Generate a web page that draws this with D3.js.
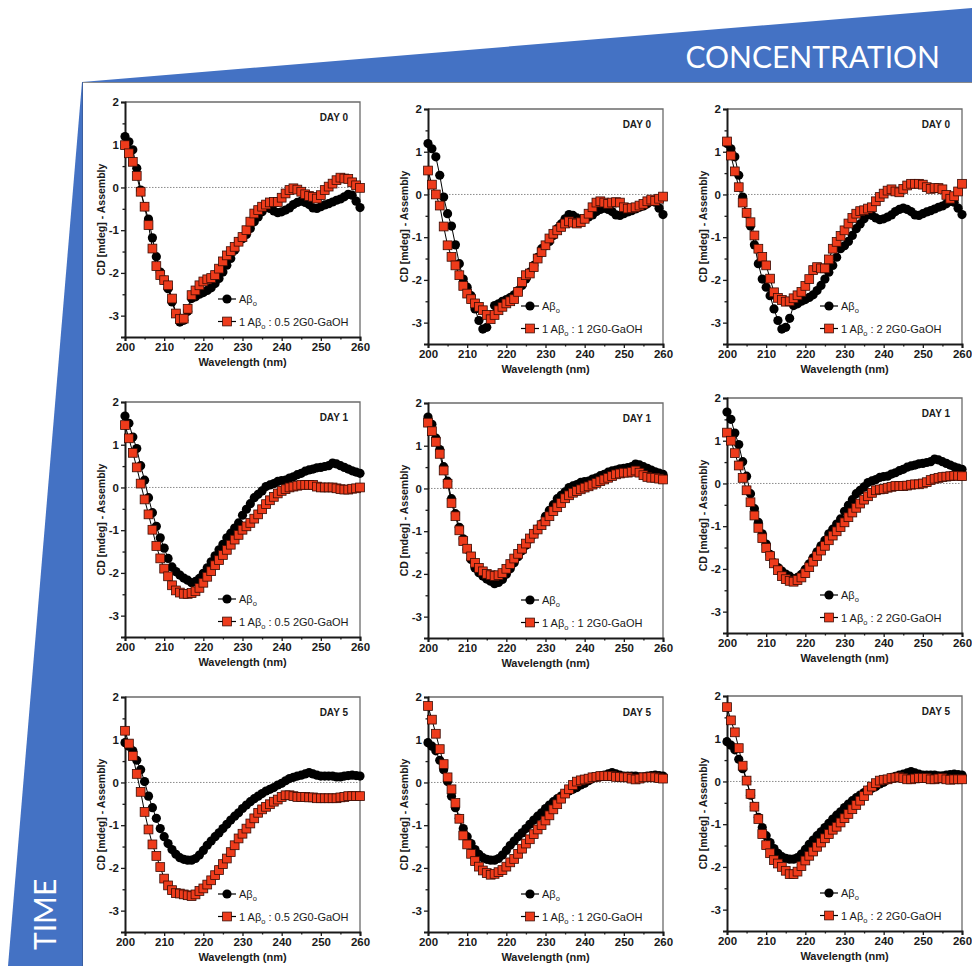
<!DOCTYPE html>
<html>
<head>
<meta charset="utf-8">
<script src="https://cdn.jsdelivr.net/npm/d3@7"></script>
<style>
  body { margin: 0; background: #fff; }
  svg { display: block; }
</style>
</head>
<body>
<svg id="fig" width="972" height="969"></svg>
<script>
// ---- Data -------------------------------------------------------------
const wavelengths = d3.range(200, 261);            // nm, 1 nm steps
const days = ["DAY 0", "DAY 1", "DAY 5"];
const ratios = ["0.5", "1", "2"];                  // Aβo : 2G0-GaOH
const xTicks = [200, 210, 220, 230, 240, 250, 260];
const xMinor = [205, 215, 225, 235, 245, 255];
const yTicks = [-3, -2, -1, 0, 1, 2];
const yMinor = [-2.5, -1.5, -0.5, 0.5, 1.5];

// Aβo alone (same control in each row)
const abDay0 = [
  1.19, 1.07, 0.88, 0.45, -0.06, -0.45, -0.74, -1.18, -1.62, -1.98,
  -2.17, -2.37, -2.68, -2.95, -3.15, -3.11, -2.9, -2.6, -2.56, -2.5,
  -2.46, -2.41, -2.35, -2.25, -2.13, -1.98, -1.82, -1.66, -1.47, -1.27,
  -1.2, -1.1, -0.96, -0.8, -0.69, -0.57, -0.47, -0.49, -0.55, -0.59,
  -0.57, -0.53, -0.48, -0.4, -0.35, -0.32, -0.35, -0.4, -0.48, -0.49,
  -0.45, -0.41, -0.38, -0.34, -0.3, -0.27, -0.22, -0.16, -0.18, -0.32, -0.47];
const abDay1 = [
  1.67, 1.5, 1.18, 0.91, 0.51, 0.17, -0.24, -0.59, -0.91, -1.18,
  -1.42, -1.66, -1.86, -1.97, -2.05, -2.12, -2.17, -2.23, -2.2, -2.13,
  -2.01, -1.88, -1.74, -1.6, -1.46, -1.33, -1.18, -1.07, -0.95, -0.83,
  -0.65, -0.51, -0.38, -0.24, -0.16, -0.08, 0.02, 0.06, 0.09, 0.14,
  0.16, 0.17, 0.22, 0.25, 0.3, 0.33, 0.38, 0.41, 0.43, 0.46,
  0.47, 0.49, 0.51, 0.57, 0.55, 0.51, 0.47, 0.43, 0.39, 0.36, 0.33];
const abDay5 = [
  0.93, 0.85, 0.74, 0.52, 0.3, 0.02, -0.32, -0.59, -0.84, -1.08,
  -1.27, -1.43, -1.57, -1.68, -1.76, -1.8, -1.82, -1.82, -1.78, -1.7,
  -1.59, -1.47, -1.37, -1.27, -1.18, -1.08, -0.98, -0.88, -0.79, -0.71,
  -0.61, -0.53, -0.45, -0.38, -0.32, -0.26, -0.2, -0.16, -0.12, -0.06,
  -0.02, 0.04, 0.09, 0.12, 0.15, 0.17, 0.2, 0.23, 0.2, 0.17,
  0.15, 0.15, 0.15, 0.15, 0.13, 0.13, 0.15, 0.16, 0.17, 0.16, 0.15];

// Aβo with 2G0-GaOH at 0.5, 1 and 2 equivalents
const day0Ratio05 = [
  0.99, 0.8, 0.6, 0.27, -0.1, -0.45, -0.88, -1.43, -1.84, -2.05,
  -2.17, -2.29, -2.6, -2.95, -3.08, -3.07, -2.84, -2.52, -2.41, -2.29,
  -2.2, -2.15, -2.12, -2.05, -1.9, -1.73, -1.59, -1.49, -1.39, -1.27,
  -1.16, -1.0, -0.8, -0.61, -0.53, -0.45, -0.4, -0.35, -0.34, -0.34,
  -0.24, -0.14, -0.06, -0.02, -0.05, -0.1, -0.16, -0.2, -0.22, -0.26,
  -0.18, -0.06, 0.02, 0.09, 0.17, 0.23, 0.21, 0.2, 0.12, 0.05, -0.01];
const day0Ratio1 = [
  0.56, 0.23, 0.0, -0.26, -0.75, -1.19, -1.46, -1.66, -1.89, -2.14,
  -2.32, -2.45, -2.55, -2.63, -2.71, -2.82, -2.92, -2.82, -2.71, -2.63,
  -2.55, -2.5, -2.45, -2.28, -2.05, -1.89, -1.85, -1.7, -1.5, -1.35,
  -1.19, -1.03, -0.92, -0.84, -0.76, -0.68, -0.63, -0.66, -0.68, -0.65,
  -0.57, -0.45, -0.3, -0.19, -0.16, -0.19, -0.22, -0.19, -0.18, -0.19,
  -0.3, -0.33, -0.32, -0.3, -0.26, -0.22, -0.16, -0.12, -0.15, -0.1, -0.05];
const day0Ratio2 = [
  1.24, 0.91, 0.54, 0.17, -0.19, -0.43, -0.65, -0.96, -1.27, -1.46,
  -1.66, -1.97, -2.29, -2.42, -2.47, -2.51, -2.5, -2.43, -2.36, -2.28,
  -2.14, -1.98, -1.77, -1.7, -1.73, -1.73, -1.52, -1.27, -1.11, -0.97,
  -0.84, -0.68, -0.55, -0.45, -0.39, -0.37, -0.33, -0.3, -0.16, -0.06,
  0.02, 0.09, 0.12, 0.07, 0.05, 0.13, 0.21, 0.25, 0.25, 0.25,
  0.23, 0.17, 0.13, 0.15, 0.15, 0.12, -0.01, -0.1, -0.04, 0.07, 0.25];
const day1Ratio05 = [
  1.46, 1.15, 0.81, 0.47, 0.09, -0.28, -0.63, -0.99, -1.37, -1.66,
  -1.9, -2.08, -2.29, -2.41, -2.46, -2.49, -2.49, -2.47, -2.43, -2.35,
  -2.23, -2.09, -1.96, -1.82, -1.7, -1.58, -1.46, -1.34, -1.22, -1.11,
  -0.99, -0.91, -0.83, -0.73, -0.63, -0.51, -0.39, -0.3, -0.22, -0.14,
  -0.08, -0.04, 0, 0.02, 0.04, 0.06, 0.06, 0.06, 0.06, 0.02,
  0, 0, 0, 0, -0.02, -0.04, -0.05, -0.05, -0.03, -0.02, 0];
const day1Ratio1 = [
  1.54, 1.34, 1.09, 0.81, 0.42, 0.11, -0.34, -0.65, -0.98, -1.23,
  -1.41, -1.59, -1.74, -1.86, -1.94, -2.0, -2.03, -2.05, -2.03, -1.98,
  -1.88, -1.77, -1.64, -1.53, -1.41, -1.29, -1.17, -1.06, -0.96, -0.86,
  -0.77, -0.65, -0.53, -0.44, -0.34, -0.23, -0.16, -0.1, -0.06, -0.02,
  0.02, 0.05, 0.09, 0.13, 0.17, 0.21, 0.25, 0.29, 0.33, 0.35,
  0.37, 0.37, 0.39, 0.42, 0.37, 0.31, 0.27, 0.25, 0.25, 0.23, 0.21];
const day1Ratio2 = [
  1.19, 1.0, 0.71, 0.42, 0.13, -0.16, -0.44, -0.75, -1.04, -1.28,
  -1.51, -1.7, -1.87, -2.03, -2.17, -2.24, -2.28, -2.3, -2.26, -2.2,
  -2.1, -1.96, -1.83, -1.7, -1.57, -1.46, -1.33, -1.22, -1.12, -1.02,
  -0.91, -0.79, -0.68, -0.57, -0.47, -0.38, -0.3, -0.22, -0.16, -0.14,
  -0.13, -0.1, -0.08, -0.06, -0.06, -0.06, -0.05, -0.03, -0.02, -0.02,
  0, 0.03, 0.08, 0.11, 0.13, 0.15, 0.16, 0.17, 0.18, 0.18, 0.17];
const day5Ratio05 = [
  1.21, 0.91, 0.62, 0.2, -0.22, -0.69, -1.1, -1.45, -1.72, -1.98,
  -2.25, -2.41, -2.52, -2.59, -2.6, -2.62, -2.64, -2.66, -2.62, -2.54,
  -2.48, -2.39, -2.29, -2.17, -2.05, -1.91, -1.78, -1.63, -1.47, -1.31,
  -1.2, -1.08, -0.96, -0.84, -0.71, -0.63, -0.57, -0.51, -0.45, -0.4,
  -0.34, -0.3, -0.3, -0.32, -0.34, -0.34, -0.34, -0.35, -0.35, -0.37,
  -0.37, -0.37, -0.37, -0.37, -0.37, -0.35, -0.34, -0.32, -0.32, -0.32, -0.32];
const day5Ratio1 = [
  1.79, 1.47, 1.14, 0.78, 0.43, 0.12, -0.16, -0.48, -0.85, -1.24,
  -1.45, -1.67, -1.84, -1.97, -2.06, -2.12, -2.16, -2.14, -2.1, -2.05,
  -1.97, -1.87, -1.79, -1.67, -1.55, -1.43, -1.33, -1.21, -1.1, -1.0,
  -0.89, -0.77, -0.63, -0.51, -0.38, -0.26, -0.16, -0.06, 0.02, 0.05,
  0.07, 0.09, 0.12, 0.13, 0.15, 0.15, 0.15, 0.15, 0.13, 0.13,
  0.12, 0.12, 0.09, 0.07, 0.09, 0.12, 0.12, 0.13, 0.12, 0.1, 0.09];
const day5Ratio2 = [
  1.74, 1.43, 1.15, 0.78, 0.37, 0.02, -0.29, -0.59, -0.88, -1.23,
  -1.49, -1.68, -1.84, -1.92, -2.0, -2.09, -2.17, -2.17, -2.11, -1.98,
  -1.85, -1.74, -1.64, -1.53, -1.43, -1.33, -1.23, -1.13, -1.06, -0.96,
  -0.86, -0.76, -0.65, -0.55, -0.45, -0.34, -0.21, -0.12, -0.04, 0.02,
  0.04, 0.05, 0.08, 0.09, 0.1, 0.08, 0.05, 0.05, 0.07, 0.08,
  0.08, 0.08, 0.05, 0.05, 0.07, 0.08, 0.05, 0.04, 0.05, 0.05, 0.05];

const controls = [abDay0, abDay1, abDay5];
const mixtures = [
  [day0Ratio05, day0Ratio1, day0Ratio2],
  [day1Ratio05, day1Ratio1, day1Ratio2],
  [day5Ratio05, day5Ratio1, day5Ratio2]
];

// ---- Layout -----------------------------------------------------------
const W = 235, H = 235;
const colLeft = [125, 428, 727];
const panelTop = [[102, 109, 109], [402, 403, 398], [697, 697, 696]];

const BLUE = "#4472C4";
const RED = "#ee3b1b";
const FONT = "'Liberation Sans', Arial, Helvetica, sans-serif";

const svg = d3.select("#fig");

// Blue wedges: concentration across, time down
svg.append("polygon")
  .attr("points", [[82, 82], [972, 8], [972, 82]].map(p => p.join(",")).join(" "))
  .attr("fill", BLUE);
svg.append("line").attr("x1", 82).attr("x2", 972).attr("y1", 82.5).attr("y2", 82.5)
  .attr("stroke", "#8a8a8a").attr("stroke-width", 1);
svg.append("polygon")
  .attr("points", [[82, 82], [8, 966], [82, 966]].map(p => p.join(",")).join(" "))
  .attr("fill", BLUE);
svg.append("line").attr("x1", 82.5).attr("x2", 82.5).attr("y1", 82).attr("y2", 966)
  .attr("stroke", "#3b5fa0").attr("stroke-width", 1);

svg.append("text")
  .attr("x", 940).attr("y", 68)
  .attr("text-anchor", "end")
  .attr("font-family", "Lato, 'Open Sans', sans-serif")
  .attr("font-weight", 400)
  .attr("font-size", 30)
  .attr("fill", "#fff")
  .text("CONCENTRATION");

svg.append("text")
  .attr("transform", "translate(56,950) rotate(-90)")
  .attr("font-family", "Lato, 'Open Sans', sans-serif")
  .attr("font-weight", 400)
  .attr("font-size", 30)
  .attr("fill", "#fff")
  .text("TIME");

// ---- Panels -----------------------------------------------------------
const x = d3.scaleLinear().domain([200, 260]).range([0, W]);
const y = d3.scaleLinear().domain([-3.5, 2]).range([H, 0]);
const line = d3.line().x((d, i) => x(wavelengths[i])).y(d => y(d));

function aBetaLabel(sel, prefix, suffix) {
  sel.append("tspan").text(prefix + "Aβ");
  sel.append("tspan").attr("font-size", 7.5).attr("dy", 3).text("o");
  sel.append("tspan").attr("dy", -3).text(suffix);
}

days.forEach((day, r) => {
  ratios.forEach((ratio, c) => {
    const g = svg.append("g")
      .attr("transform", `translate(${colLeft[c]},${panelTop[r][c]})`);

    // frame (top and right)
    g.append("path")
      .attr("d", `M0,0H${W}V${H}`)
      .attr("fill", "none").attr("stroke", "#6b6b6b").attr("stroke-width", 1.3);

    // zero reference
    g.append("line")
      .attr("x1", 0).attr("x2", W).attr("y1", y(0)).attr("y2", y(0))
      .attr("stroke", "#8c8c8c").attr("stroke-width", 1)
      .attr("stroke-dasharray", "1.5,1.5");

    // axes
    g.append("g").attr("transform", `translate(0,${H})`)
      .call(d3.axisBottom(x).tickValues(xTicks).tickSize(4).tickPadding(2)
        .tickFormat(d => String(d)));
    g.append("g").attr("transform", `translate(0,${H})`)
      .call(d3.axisBottom(x).tickValues(xMinor).tickSize(2.5).tickFormat(""))
      .call(s => s.select(".domain").remove());
    g.append("g")
      .call(d3.axisLeft(y).tickValues(yTicks).tickSize(4).tickPadding(2)
        .tickFormat(d => String(d)));
    g.append("g")
      .call(d3.axisLeft(y).tickValues(yMinor).tickSize(2.5).tickFormat(""))
      .call(s => s.select(".domain").remove());

    g.selectAll(".domain").attr("stroke", "#1a1a1a").attr("stroke-width", 2);
    g.selectAll(".tick line").attr("stroke", "#1a1a1a").attr("stroke-width", 1.3);
    g.selectAll(".tick text")
      .attr("font-family", FONT).attr("font-weight", "bold")
      .attr("font-size", 11.5).attr("fill", "#1a1a1a");

    // axis titles
    g.append("text")
      .attr("x", W / 2).attr("y", H + 29)
      .attr("text-anchor", "middle")
      .attr("font-family", FONT).attr("font-weight", "bold")
      .attr("font-size", 11).attr("fill", "#1a1a1a")
      .text("Wavelength (nm)");
    g.append("text")
      .attr("transform", `translate(-20,${H / 2}) rotate(-90)`)
      .attr("text-anchor", "middle")
      .attr("font-family", FONT).attr("font-weight", "bold")
      .attr("font-size", 10.5).attr("fill", "#1a1a1a")
      .text("CD [mdeg] - Assembly");

    // day tag
    g.append("text")
      .attr("x", W - 12).attr("y", 19)
      .attr("text-anchor", "end")
      .attr("font-family", FONT).attr("font-weight", "bold")
      .attr("font-size", 10).attr("fill", "#1a1a1a")
      .text(day);

    // Aβo alone
    const ctrl = controls[r];
    g.append("path").datum(ctrl).attr("d", line)
      .attr("fill", "none").attr("stroke", "#000").attr("stroke-width", 1);
    g.selectAll(".ctrl").data(ctrl).enter().append("circle")
      .attr("class", "ctrl")
      .attr("cx", (d, i) => x(wavelengths[i])).attr("cy", d => y(d))
      .attr("r", 4.6).attr("fill", "#000");

    // Aβo + 2G0-GaOH
    const mix = mixtures[r][c];
    const s = 8.8;
    g.append("path").datum(mix).attr("d", line)
      .attr("fill", "none").attr("stroke", "#000").attr("stroke-width", 1);
    g.selectAll(".mix").data(mix).enter().append("rect")
      .attr("class", "mix")
      .attr("x", (d, i) => x(wavelengths[i]) - s / 2).attr("y", d => y(d) - s / 2)
      .attr("width", s).attr("height", s)
      .attr("fill", RED).attr("stroke", "#3a0c04").attr("stroke-width", 0.8);

    // legend
    const lx = 102, ly1 = 197, ly2 = 219.5;
    const lg = g.append("g");
    [ly1, ly2].forEach(ly => lg.append("line")
      .attr("x1", lx - 9).attr("x2", lx + 9).attr("y1", ly).attr("y2", ly)
      .attr("stroke", "#000").attr("stroke-width", 1.2));
    lg.append("circle").attr("cx", lx).attr("cy", ly1).attr("r", 4.6).attr("fill", "#000");
    lg.append("rect").attr("x", lx - s / 2).attr("y", ly2 - s / 2)
      .attr("width", s).attr("height", s)
      .attr("fill", RED).attr("stroke", "#3a0c04").attr("stroke-width", 0.8);
    const t1 = lg.append("text").attr("x", lx + 12).attr("y", ly1 + 4)
      .attr("font-family", FONT).attr("font-size", 11).attr("fill", "#1a1a1a");
    aBetaLabel(t1, "", "");
    const t2 = lg.append("text").attr("x", lx + 12).attr("y", ly2 + 4)
      .attr("font-family", FONT).attr("font-size", 11).attr("fill", "#1a1a1a");
    aBetaLabel(t2, "1 ", ` : ${ratio} 2G0-GaOH`);
  });
});
</script>
</body>
</html>
